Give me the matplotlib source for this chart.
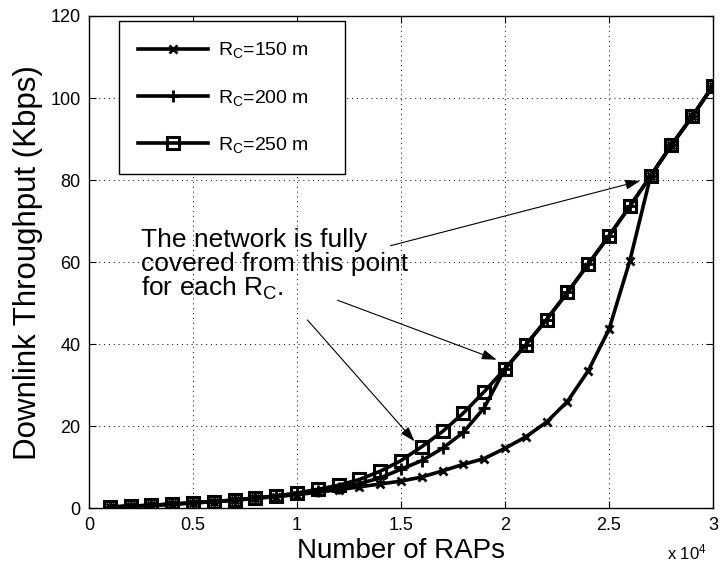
import matplotlib
matplotlib.use("Agg")
import matplotlib.pyplot as plt

plt.rcParams["font.family"] = ["Liberation Sans", "DejaVu Sans"]
plt.rcParams["mathtext.fontset"] = "custom"
plt.rcParams["mathtext.rm"] = "Liberation Sans"
plt.rcParams["mathtext.it"] = "Liberation Sans"

# number of RAPs (x 10^4 on the axis)
n_raps = [1000 * k for k in range(1, 31)]

# downlink throughput in Kbps for each coverage radius
thr_150 = [0.3, 0.5, 0.7, 1.0, 1.3, 1.6, 1.9, 2.4, 2.8, 3.3,
           3.9, 4.5, 5.2, 5.9, 6.6, 7.6, 9.1, 10.7, 12.1, 14.6,
           17.4, 21.0, 26.0, 33.5, 43.6, 60.3, 81.0, 88.5, 95.5, 103.0]
thr_200 = [0.3, 0.5, 0.7, 1.0, 1.3, 1.6, 2.0, 2.5, 2.9, 3.5,
           4.2, 5.0, 6.0, 7.4, 9.5, 11.6, 14.6, 18.5, 24.5, 34.0,
           39.8, 46.0, 52.6, 59.5, 66.4, 73.6, 81.0, 88.5, 95.5, 103.0]
thr_250 = [0.3, 0.5, 0.7, 1.0, 1.3, 1.6, 2.0, 2.5, 3.0, 3.7,
           4.6, 5.6, 7.0, 9.0, 11.6, 15.0, 18.7, 23.2, 28.4, 34.0,
           39.8, 46.0, 52.6, 59.5, 66.4, 73.6, 81.0, 88.5, 95.5, 103.0]

labels = [r"R$_\mathrm{C}$=150 m", r"R$_\mathrm{C}$=200 m", r"R$_\mathrm{C}$=250 m"]

fig = plt.figure(figsize=(7.2, 5.71), dpi=100)
ax = fig.add_axes([0.1236, 0.110, 0.8667, 0.862])

# markers left unfilled so the line shows through them
ax.plot(n_raps, thr_150, color="k", lw=2.6, marker="x", ms=6, mew=2.0,
        label=labels[0])
ax.plot(n_raps, thr_200, color="k", lw=2.6, marker="+", ms=8, mew=2.0,
        label=labels[1])
ax.plot(n_raps, thr_250, color="k", lw=2.6, marker="s", ms=8, mew=2.2,
        mfc="none", mec="k", label=labels[2])

ax.set_xlim(0, 30000)
ax.set_ylim(0, 120)
ax.set_xticks([0, 5000, 10000, 15000, 20000, 25000, 30000])
ax.set_xticklabels(["0", "0.5", "1", "1.5", "2", "2.5", "3"])
ax.set_yticks(range(0, 121, 20))
ax.tick_params(direction="in", top=True, right=True, labelsize=13,
               length=5, width=0.8, pad=6)
ax.grid(True, color="k", linestyle=(0, (1, 4)), linewidth=0.7)
for sp in ax.spines.values():
    sp.set_linewidth(1.0)

ax.set_xlabel("Number of RAPs", fontsize=20, labelpad=3)
ax.set_ylabel("Downlink Throughput (Kbps)", fontsize=22.5, labelpad=5)

fig.text(0.982, 0.015, r"x 10$^4$", ha="right", va="bottom", fontsize=12)

# legend stretched to a fixed box, entries stay on the left
leg = ax.legend(loc="upper left", bbox_to_anchor=(0.048, 0.691, 0.362, 0.299),
                mode="expand", fontsize=14, handlelength=3.6,
                labelspacing=1.4, borderpad=1.0, handletextpad=0.5,
                numpoints=1, fancybox=False, edgecolor="k", framealpha=1,
                borderaxespad=0)
leg.get_frame().set_linewidth(1.0)

ax.text(2500, 68.3, "The network is fully\ncovered from this point\nfor each R$_\\mathrm{C}$.",
        fontsize=19, va="top", ha="left", linespacing=0.98)

arrow = dict(arrowstyle="-|>,head_length=0.9,head_width=0.3", color="k",
             lw=0.8, shrinkA=0, shrinkB=0)
ax.annotate("", xy=(26500, 79.8), xytext=(14500, 64.0), arrowprops=arrow)
ax.annotate("", xy=(19600, 36.2), xytext=(11950, 50.7), arrowprops=arrow)
ax.annotate("", xy=(15650, 16.3), xytext=(10500, 45.9), arrowprops=arrow)

fig.savefig("out.png", dpi=100)
